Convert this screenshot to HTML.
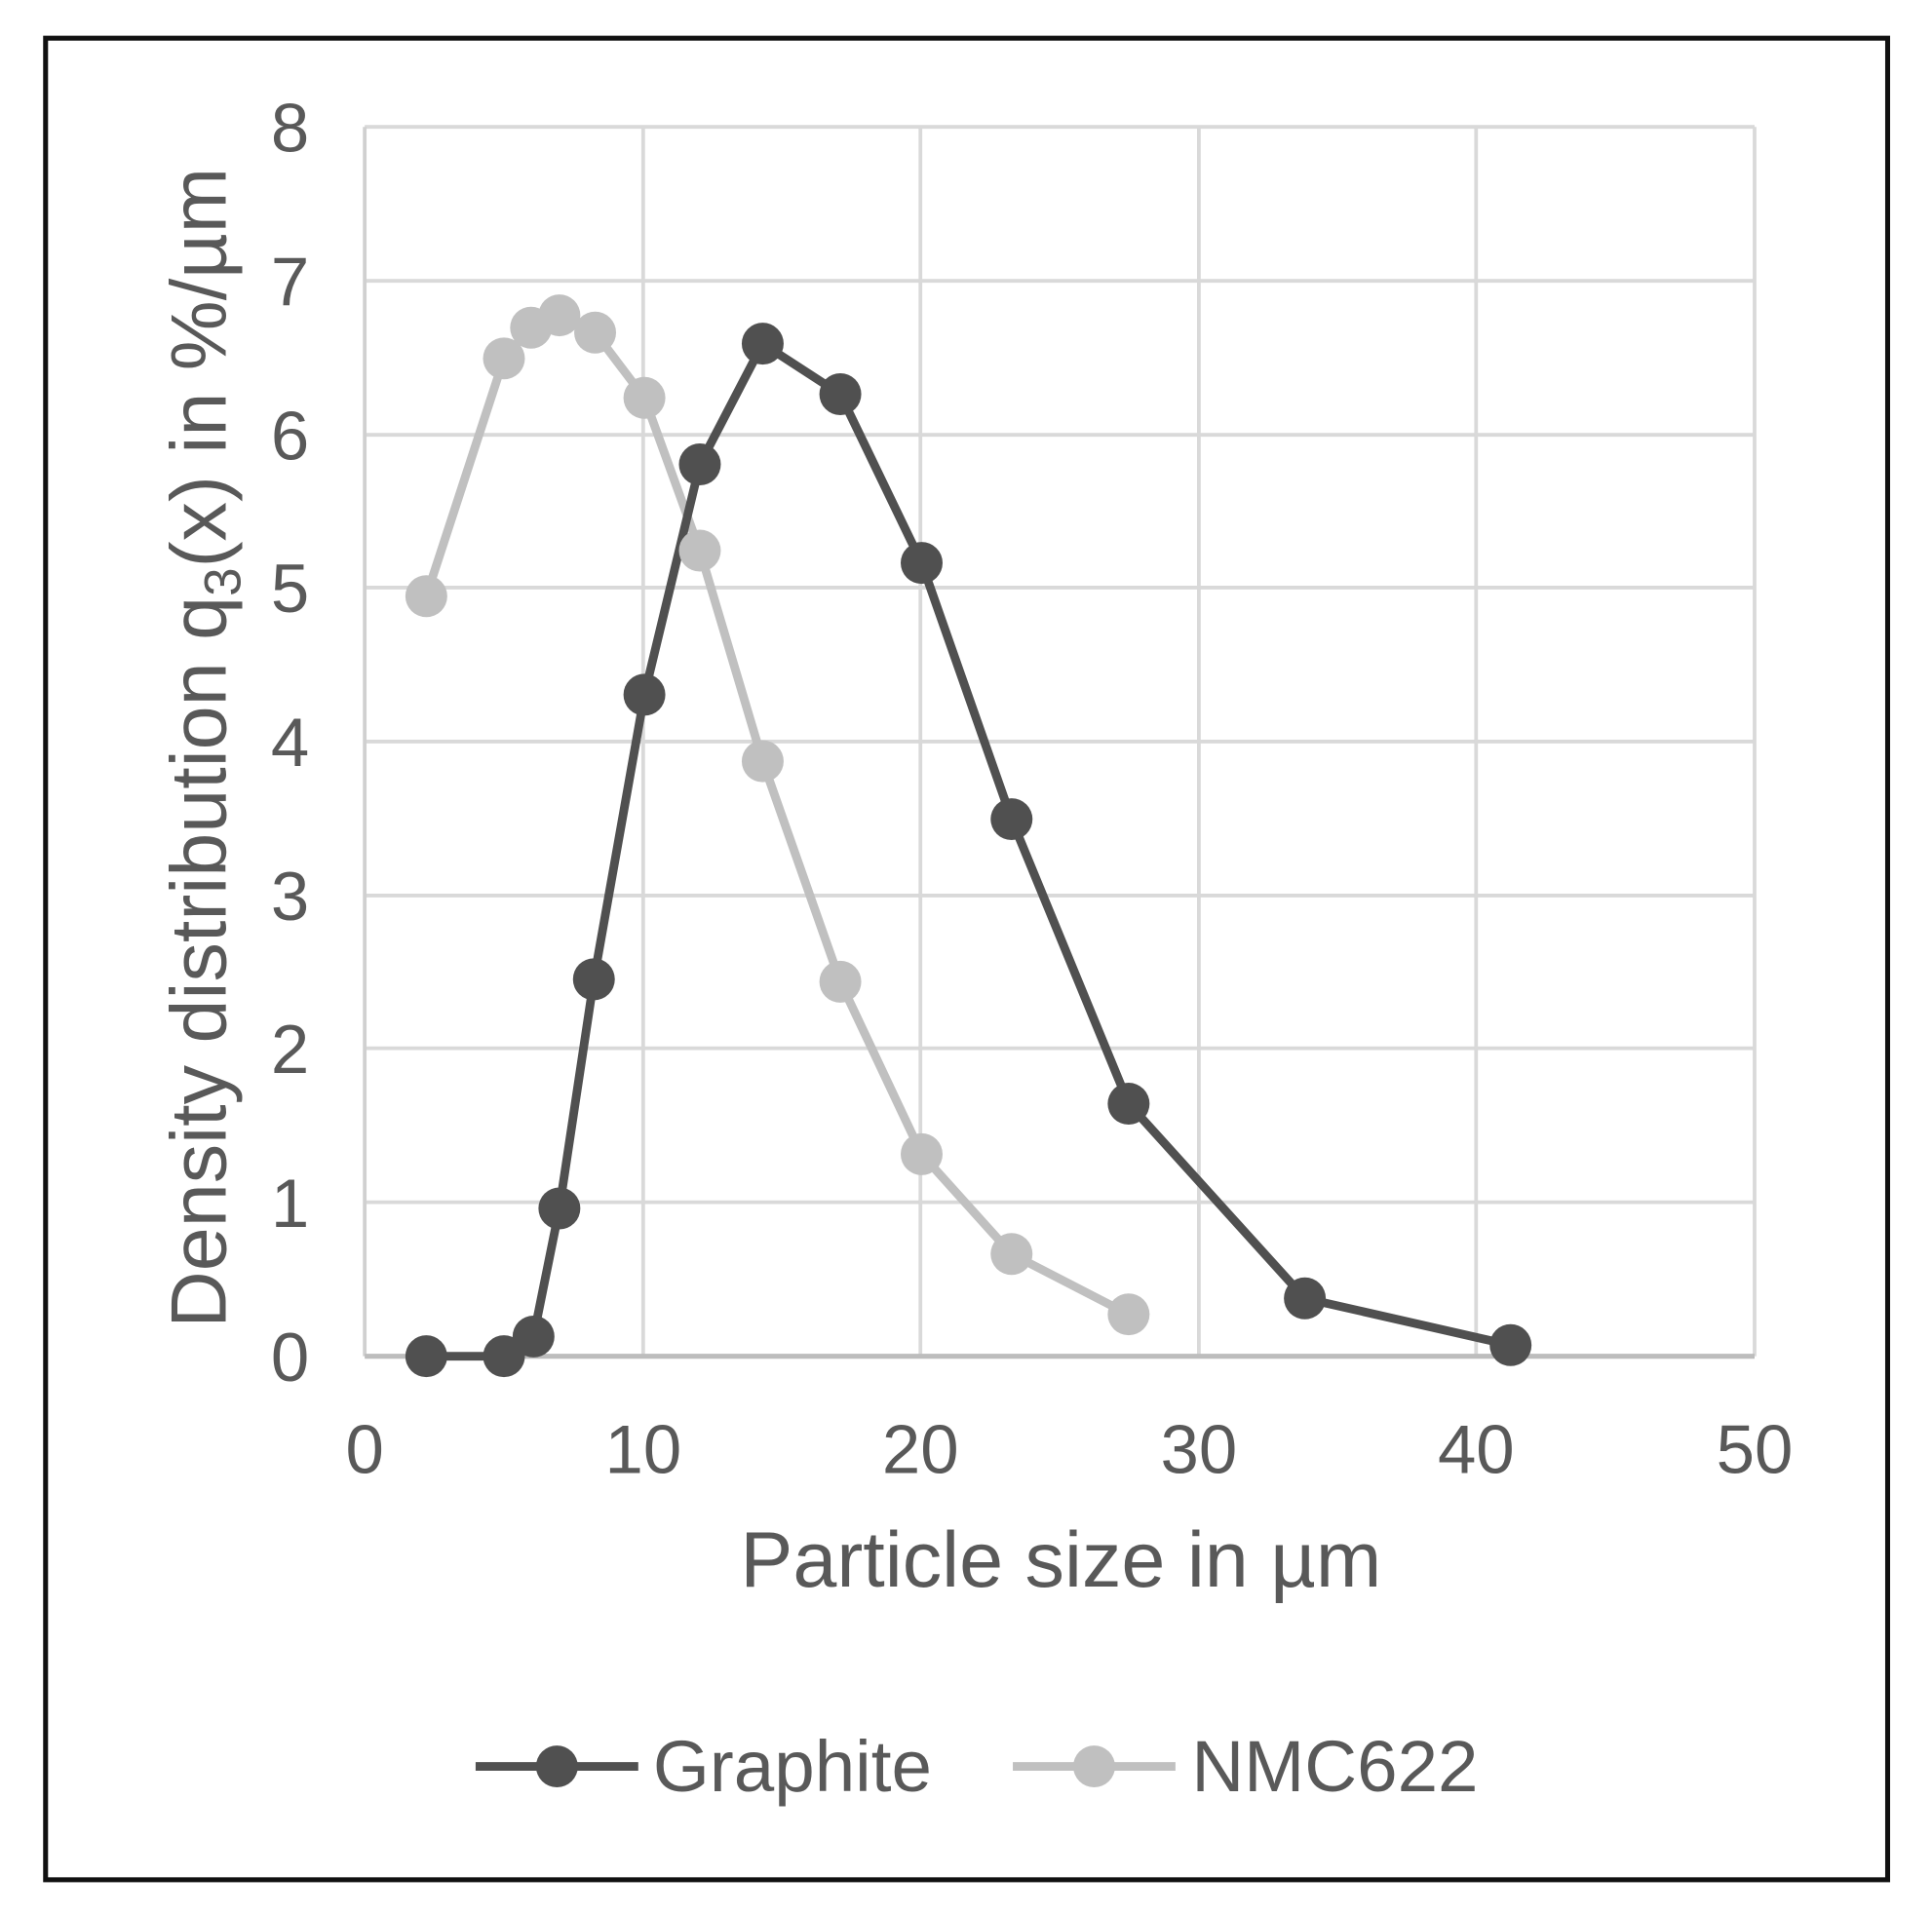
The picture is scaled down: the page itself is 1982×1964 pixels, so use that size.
<!DOCTYPE html>
<html><head><meta charset="utf-8"><style>
html,body{margin:0;padding:0;background:#fff;}
svg{display:block;}
text{font-family:"Liberation Sans",sans-serif;fill:#595959;}
</style></head><body>
<svg width="1982" height="1964" viewBox="0 0 1568 1553.8" preserveAspectRatio="none" xmlns="http://www.w3.org/2000/svg">
<rect x="0" y="0" width="1568" height="1554" fill="#fff"/>
<rect x="37" y="31" width="1495" height="1495" fill="none" stroke="#111" stroke-width="4"/>
<g stroke="#d9d9d9" stroke-width="3">
<line x1="296" y1="103" x2="1424" y2="103"/>
<line x1="296" y1="228" x2="1424" y2="228"/>
<line x1="296" y1="353" x2="1424" y2="353"/>
<line x1="296" y1="477" x2="1424" y2="477"/>
<line x1="296" y1="602" x2="1424" y2="602"/>
<line x1="296" y1="727" x2="1424" y2="727"/>
<line x1="296" y1="851" x2="1424" y2="851"/>
<line x1="296" y1="976" x2="1424" y2="976"/>
<line x1="522" y1="103" x2="522" y2="1101"/>
<line x1="747" y1="103" x2="747" y2="1101"/>
<line x1="973" y1="103" x2="973" y2="1101"/>
<line x1="1198" y1="103" x2="1198" y2="1101"/>
<line x1="1424" y1="103" x2="1424" y2="1101"/>
</g>
<line x1="296" y1="103" x2="296" y2="1101" stroke="#d0d0d0" stroke-width="3"/>
<line x1="296" y1="1101" x2="1424" y2="1101" stroke="#bdbdbd" stroke-width="4"/>
<g font-size="56" text-anchor="end">
<text x="251" y="1121">0</text><text x="251" y="996">1</text><text x="251" y="871">2</text><text x="251" y="747">3</text><text x="251" y="622">4</text><text x="251" y="497">5</text><text x="251" y="373">6</text><text x="251" y="248">7</text><text x="251" y="123">8</text>
</g>
<g font-size="56" text-anchor="middle">
<text x="296" y="1196">0</text><text x="522" y="1196">10</text><text x="747" y="1196">20</text><text x="973" y="1196">30</text><text x="1198" y="1196">40</text><text x="1424" y="1196">50</text>
</g>
<text x="861" y="1288" font-size="64" text-anchor="middle">Particle size in µm</text>
<text transform="translate(183,607) rotate(-90)" font-size="64" text-anchor="middle">Density distribution q<tspan font-size="42" dy="12">3</tspan><tspan dy="-12">(x) in %/µm</tspan></text>
<g fill="none" stroke-width="7" stroke-linejoin="round">
<polyline stroke="#c0c0c0" points="346,484 409,291 431,266 454,256 483,270 523,323 568,447 619,618 682,797 748,937 821,1018 916,1067"/>
<polyline stroke="#505050" points="346,1101 409,1101 433,1085 454,981 482,795 523,564 568,377 619,279 682,320 748,457 821,665 916,896 1059,1054 1226,1092"/>
</g>
<g fill="#c0c0c0">
<circle cx="346" cy="484" r="17"/><circle cx="409" cy="291" r="17"/><circle cx="431" cy="266" r="17"/><circle cx="454" cy="256" r="17"/><circle cx="483" cy="270" r="17"/><circle cx="523" cy="323" r="17"/><circle cx="568" cy="447" r="17"/><circle cx="619" cy="618" r="17"/><circle cx="682" cy="797" r="17"/><circle cx="748" cy="937" r="17"/><circle cx="821" cy="1018" r="17"/><circle cx="916" cy="1067" r="17"/>
</g>
<g fill="#505050">
<circle cx="346" cy="1101" r="17"/><circle cx="409" cy="1101" r="17"/><circle cx="433" cy="1085" r="17"/><circle cx="454" cy="981" r="17"/><circle cx="482" cy="795" r="17"/><circle cx="523" cy="564" r="17"/><circle cx="568" cy="377" r="17"/><circle cx="619" cy="279" r="17"/><circle cx="682" cy="320" r="17"/><circle cx="748" cy="457" r="17"/><circle cx="821" cy="665" r="17"/><circle cx="916" cy="896" r="17"/><circle cx="1059" cy="1054" r="17"/><circle cx="1226" cy="1092" r="17"/>
</g>
<line x1="386" y1="1434" x2="518" y2="1434" stroke="#505050" stroke-width="7"/>
<circle cx="452" cy="1434" r="17" fill="#505050"/>
<text x="530" y="1454" font-size="59">Graphite</text>
<line x1="822" y1="1434" x2="954" y2="1434" stroke="#c0c0c0" stroke-width="7"/>
<circle cx="888" cy="1434" r="17" fill="#c0c0c0"/>
<text x="967" y="1454" font-size="59">NMC622</text>
</svg>
</body></html>
